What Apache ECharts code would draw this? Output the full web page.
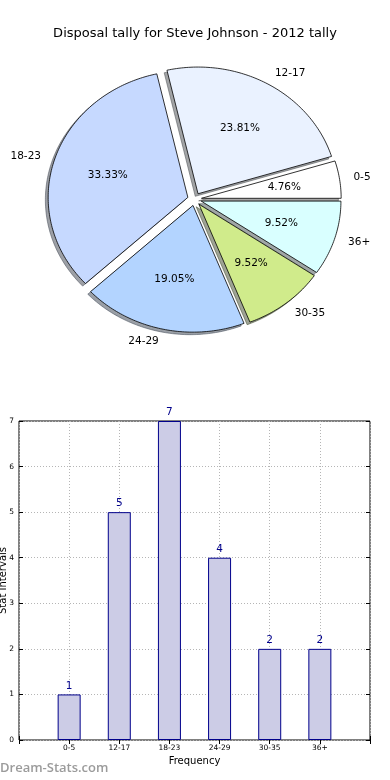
<!DOCTYPE html>
<html>
<head>
<meta charset="utf-8">
<script src="https://cdn.jsdelivr.net/npm/echarts@6/dist/echarts.min.js"></script>
<style>html,body{margin:0;padding:0;background:#fff}#c{width:390px;height:780px}</style>
</head>
<body>
<div id="c"></div>
<script>
// ---- data ----
const categories = ['0-5', '12-17', '18-23', '24-29', '30-35', '36+'];
const counts = [1, 5, 7, 4, 2, 2];
const yTickValues = [0, 1, 2, 3, 4, 5, 6, 7];
const titleText = 'Disposal tally for Steve Johnson - 2012 tally';

// ---- style ----
const sliceColors = ['#ffffff', '#eaf2ff', '#c6d9ff', '#b3d4ff', '#d0eb8b', '#d9ffff'];
const explodeAmt = 0.05;
const FONT = '"DejaVu Sans", "Liberation Sans", sans-serif';

const total = counts.reduce((a, b) => a + b, 0);
const startAngles = [];
{ let acc = 0; counts.forEach(v => { startAngles.push(acc); acc += v / total * 360; }); }

function slicePoints(i, api, dx, dy) {
  const a0 = startAngles[i], a1 = a0 + counts[i] / total * 360;
  const mid = (a0 + a1) / 2 * Math.PI / 180;
  const cx = explodeAmt * Math.cos(mid) + dx, cy = explodeAmt * Math.sin(mid) + dy;
  const pts = [api.coord([cx, cy])];
  const n = Math.max(4, Math.ceil(a1 - a0));
  for (let k = 0; k <= n; k++) {
    const t = (a0 + (a1 - a0) * k / n) * Math.PI / 180;
    pts.push(api.coord([cx + Math.cos(t), cy + Math.sin(t)]));
  }
  return { pts, mid, cx, cy };
}
function hexToRgb(h) { return [1, 3, 5].map(o => parseInt(h.substr(o, 2), 16)); }

const chart = echarts.init(document.getElementById('c'), null, { renderer: 'canvas' });
const padded = [''].concat(categories, ['']);
const barData = [null].concat(counts, [null]);

chart.setOption({
  animation: false,
  backgroundColor: '#ffffff',
  title: {
    text: titleText, left: 'center', top: 22,
    textStyle: { fontFamily: FONT, fontSize: 13, fontWeight: 'normal', color: '#000' }
  },
  graphic: [{
    type: 'text', left: 0, top: 762,
    style: { text: 'Dream-Stats.com', fill: '#9b9b9b', font: '600 13px "Open Sans", sans-serif' }
  }],
  grid: [
    { left: 26.9, width: 335.3, top: 47.2, height: 304.1, show: false, outerBoundsMode: 'none', containLabel: false },
    { left: 19, right: 20, top: 421, bottom: 40, show: true, borderColor: '#000', borderWidth: 1, outerBoundsMode: 'none', containLabel: false }
  ],
  xAxis: [
    { gridIndex: 0, type: 'value', min: -1.2, max: 1.2, show: false },
    {
      gridIndex: 1, type: 'category', data: padded, boundaryGap: false,
      axisLine: { show: false },
      axisTick: { show: true, inside: true, length: 4, lineStyle: { color: '#000' } },
      axisLabel: { fontFamily: FONT, fontSize: 7.5, color: '#000', margin: 4, interval: 0 },
      splitLine: { show: true, lineStyle: { color: '#b5b5b5', type: [1, 2] } },
      name: 'Frequency', nameLocation: 'middle', nameGap: 16, nameMoveOverlap: false,
      nameTextStyle: { fontFamily: FONT, fontSize: 10, color: '#000' }
    },
    {
      gridIndex: 1, type: 'category', data: padded, boundaryGap: false, position: 'top',
      axisLine: { show: false }, axisLabel: { show: false }, splitLine: { show: false },
      axisTick: { show: true, inside: true, length: 4, lineStyle: { color: '#000' } }
    }
  ],
  yAxis: [
    { gridIndex: 0, type: 'value', min: -1.2, max: 1.2, show: false },
    {
      gridIndex: 1, type: 'value', min: yTickValues[0], max: yTickValues[yTickValues.length - 1], interval: 1,
      axisLine: { show: false },
      axisTick: { show: true, inside: true, length: 4, lineStyle: { color: '#000' } },
      axisLabel: { fontFamily: FONT, fontSize: 7.5, color: '#000', margin: 5 },
      splitLine: { show: true, lineStyle: { color: '#b5b5b5', type: [1, 2] } },
      name: 'Stat Intervals', nameLocation: 'middle', nameGap: 11, nameRotate: 90, nameMoveOverlap: false,
      nameTextStyle: { fontFamily: FONT, fontSize: 10, color: '#000' }
    },
    {
      gridIndex: 1, type: 'value', min: yTickValues[0], max: yTickValues[yTickValues.length - 1], interval: 1, position: 'right',
      axisLine: { show: false }, axisLabel: { show: false }, splitLine: { show: false },
      axisTick: { show: true, inside: true, length: 4, lineStyle: { color: '#000' } }
    }
  ],
  series: [
    {
      type: 'custom', xAxisIndex: 0, yAxisIndex: 0, z: 1,
      data: categories.map((c, i) => [0, 0, i]),
      renderItem: function (params, api) {
        const i = params.dataIndex;
        const { pts } = slicePoints(i, api, -0.02, -0.02);
        const rgb = hexToRgb(sliceColors[i]).map(v => Math.round(v * 0.3));
        const col = 'rgba(' + rgb.join(',') + ',0.5)';
        return { type: 'polygon', shape: { points: pts }, style: { fill: col, stroke: col, lineWidth: 1 } };
      }
    },
    {
      type: 'custom', xAxisIndex: 0, yAxisIndex: 0, z: 2,
      data: categories.map((c, i) => [0, 0, i]),
      renderItem: function (params, api) {
        const i = params.dataIndex;
        const { pts, mid, cx, cy } = slicePoints(i, api, 0, 0);
        const pctPos = api.coord([cx + 0.6 * Math.cos(mid), cy + 0.6 * Math.sin(mid)]);
        const lblPos = api.coord([cx + 1.1 * Math.cos(mid), cy + 1.1 * Math.sin(mid)]);
        const pct = (counts[i] / total * 100).toFixed(2) + '%';
        return {
          type: 'group',
          children: [
            { type: 'polygon', shape: { points: pts }, style: { fill: sliceColors[i], stroke: '#000', lineWidth: 0.8 } },
            { type: 'text', x: pctPos[0], y: pctPos[1], style: { text: pct, fill: '#000', font: '10.5px ' + FONT, align: 'center', verticalAlign: 'middle' } },
            { type: 'text', x: lblPos[0], y: lblPos[1], style: { text: categories[i], fill: '#000', font: '10.5px ' + FONT, align: Math.cos(mid) > 0 ? 'left' : 'right', verticalAlign: 'middle' } }
          ]
        };
      }
    },
    {
      type: 'bar', xAxisIndex: 1, yAxisIndex: 1, data: barData, barWidth: 23,
      itemStyle: { color: '#ccccE6', borderColor: '#00008b', borderWidth: 1 },
      label: { show: true, position: 'top', distance: 3, color: '#00008b', fontFamily: FONT, fontSize: 10.5 }
    }
  ]
});
</script>
</body>
</html>
